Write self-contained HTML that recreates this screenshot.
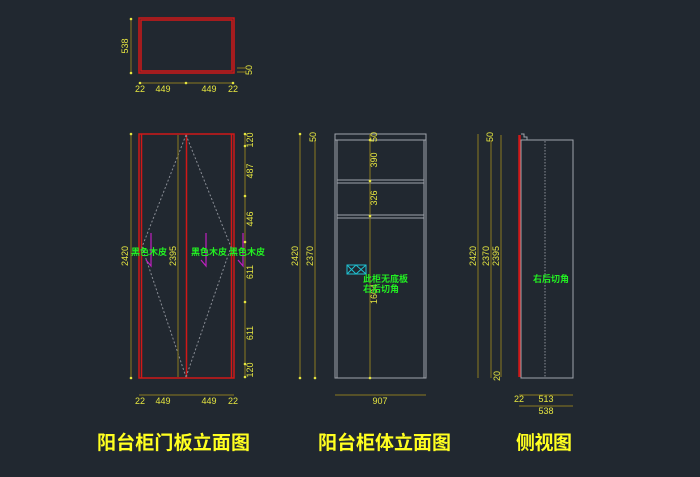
<!DOCTYPE html>
<html><head><meta charset="utf-8"><style>
html,body{margin:0;padding:0;background:#212830;}
svg{display:block}
text{font-family:"Liberation Sans","Noto Sans CJK SC",sans-serif;}
.d{stroke:#8a7a20;stroke-width:1;fill:none}
.t{fill:#e6e640;font-size:9px}
.g{fill:#22ee22;font-size:9px;font-weight:bold;font-family:"Noto Sans CJK SC",sans-serif}
.r{stroke:#d01818;stroke-width:1.5;fill:none}
.w{stroke:#a0a4ac;stroke-width:1;fill:none}
.dot{fill:#e6e640}
.ti{fill:#ffff20;font-size:19px;font-weight:bold;font-family:"Noto Sans CJK SC",sans-serif}
</style></head><body>
<svg width="700" height="477" viewBox="0 0 700 477" xmlns="http://www.w3.org/2000/svg">
<!-- top plan -->
<rect x="139" y="18" width="95" height="55" class="r"/>
<rect x="141" y="20" width="91" height="51" class="r" stroke-width="0.8"/>
<line x1="131" y1="19" x2="131" y2="73" class="d"/>
<text class="t" transform="translate(128,46) rotate(-90)" text-anchor="middle">538</text>
<line x1="139" y1="83" x2="234" y2="83" class="d"/>
<g class="dot"><circle cx="131" cy="19" r="1.3"/><circle cx="131" cy="73" r="1.3"/><circle cx="140" cy="83" r="1.3"/><circle cx="186" cy="83" r="1.3"/><circle cx="233" cy="83" r="1.3"/></g>
<text class="t" x="140" y="92" text-anchor="middle">22</text>
<text class="t" x="163" y="92" text-anchor="middle">449</text>
<text class="t" x="209" y="92" text-anchor="middle">449</text>
<text class="t" x="233" y="92" text-anchor="middle">22</text>
<text class="t" transform="translate(252,70) rotate(-90)" text-anchor="middle">50</text>
<line x1="237" y1="68" x2="246" y2="68" class="d"/><line x1="237" y1="72" x2="246" y2="72" class="d"/>

<!-- door elevation -->
<rect x="139" y="134" width="95" height="244" class="r"/>
<line x1="141.5" y1="134" x2="141.5" y2="378" class="r"/>
<line x1="186.5" y1="134" x2="186.5" y2="378" class="r"/>
<line x1="231.5" y1="134" x2="231.5" y2="378" class="r"/>
<polyline points="186,135 142,247 186,377" stroke="#8a8e96" stroke-dasharray="2,2" fill="none"/>
<polyline points="186,135 231,247 186,377" stroke="#8a8e96" stroke-dasharray="2,2" fill="none"/>
<line x1="131" y1="134" x2="131" y2="378" class="d"/>
<text class="t" transform="translate(128,256) rotate(-90)" text-anchor="middle">2420</text>
<line x1="178" y1="135" x2="178" y2="377" class="d"/>
<text class="t" transform="translate(176,256) rotate(-90)" text-anchor="middle">2395</text>
<line x1="245" y1="134" x2="245" y2="378" class="d"/>
<text class="t" transform="translate(253,140) rotate(-90)" text-anchor="middle">120</text>
<text class="t" transform="translate(253,171) rotate(-90)" text-anchor="middle">487</text>
<text class="t" transform="translate(253,219) rotate(-90)" text-anchor="middle">446</text>
<text class="t" transform="translate(253,272) rotate(-90)" text-anchor="middle">611</text>
<text class="t" transform="translate(253,333) rotate(-90)" text-anchor="middle">611</text>
<text class="t" transform="translate(253,370) rotate(-90)" text-anchor="middle">120</text>
<g class="dot"><circle cx="245" cy="134" r="1.3"/><circle cx="245" cy="146" r="1.3"/><circle cx="245" cy="196" r="1.3"/><circle cx="245" cy="242" r="1.3"/><circle cx="245" cy="302" r="1.3"/><circle cx="245" cy="364" r="1.3"/><circle cx="245" cy="377" r="1.3"/><circle cx="131" cy="134" r="1.3"/><circle cx="131" cy="378" r="1.3"/></g>
<line x1="139" y1="395" x2="234" y2="395" class="d"/>
<text class="t" x="140" y="404" text-anchor="middle">22</text>
<text class="t" x="163" y="404" text-anchor="middle">449</text>
<text class="t" x="209" y="404" text-anchor="middle">449</text>
<text class="t" x="233" y="404" text-anchor="middle">22</text>
<g stroke="#c020c0" stroke-width="1.2" fill="none">
<polyline points="151,233 151,266 146,260"/><polyline points="206,233 206,266 201,260"/><polyline points="243,233 243,266 238,260"/>
</g>
<text class="g" x="131" y="255">黑色木皮</text>
<text class="g" x="191" y="255">黑色木皮</text>
<text class="g" x="229" y="255">黑色木皮</text>

<!-- body elevation -->
<rect x="335" y="134" width="91" height="6" class="w"/>
<rect x="335" y="140" width="91" height="238" class="w"/>
<line x1="337" y1="140" x2="337" y2="378" class="w"/>
<line x1="424" y1="140" x2="424" y2="378" class="w"/>
<rect x="337" y="180" width="87" height="3" class="w"/>
<rect x="337" y="215" width="87" height="3" class="w"/>
<line x1="300" y1="134" x2="300" y2="378" class="d"/>
<text class="t" transform="translate(298,256) rotate(-90)" text-anchor="middle">2420</text>
<line x1="315" y1="140" x2="315" y2="378" class="d"/>
<text class="t" transform="translate(313,256) rotate(-90)" text-anchor="middle">2370</text>
<text class="t" transform="translate(316,137) rotate(-90)" text-anchor="middle">50</text>
<line x1="370" y1="134" x2="370" y2="378" class="d"/>
<g class="dot"><circle cx="370" cy="140" r="1.3"/><circle cx="370" cy="181" r="1.3"/><circle cx="370" cy="216" r="1.3"/><circle cx="370" cy="378" r="1.3"/><circle cx="300" cy="134" r="1.3"/><circle cx="300" cy="378" r="1.3"/><circle cx="315" cy="378" r="1.3"/></g>
<text class="t" transform="translate(377,137) rotate(-90)" text-anchor="middle">50</text>
<text class="t" transform="translate(377,160) rotate(-90)" text-anchor="middle">390</text>
<text class="t" transform="translate(377,198) rotate(-90)" text-anchor="middle">326</text>
<text class="t" transform="translate(377,294) rotate(-90)" text-anchor="middle">1604</text>
<rect x="347" y="265" width="19" height="9" stroke="#20c0d0" fill="none"/>
<path d="M347 265L356 274M356 265L347 274M356 265L366 274M366 265L356 274" stroke="#20c0d0"/>
<text class="g" x="363" y="282">此柜无底板</text>
<text class="g" x="363" y="292">右后切角</text>
<line x1="335" y1="395" x2="426" y2="395" class="d"/>
<text class="t" x="380" y="404" text-anchor="middle">907</text>

<!-- side view -->
<line x1="519.5" y1="135" x2="519.5" y2="377" stroke="#d01818" stroke-width="2.5"/>
<rect x="521" y="140" width="52" height="238" class="w"/>
<polyline points="521,134 524,134 524,137 527,137 527,140" class="w"/>
<line x1="545" y1="141" x2="545" y2="378" stroke="#8a8e96" stroke-dasharray="1.5,1.5"/>
<line x1="478" y1="134" x2="478" y2="378" class="d"/>
<text class="t" transform="translate(476,256) rotate(-90)" text-anchor="middle">2420</text>
<line x1="491" y1="140" x2="491" y2="378" class="d"/>
<text class="t" transform="translate(489,256) rotate(-90)" text-anchor="middle">2370</text>
<line x1="501" y1="135" x2="501" y2="377" class="d"/>
<text class="t" transform="translate(499,256) rotate(-90)" text-anchor="middle">2395</text>
<text class="t" transform="translate(493,137) rotate(-90)" text-anchor="middle">50</text>
<text class="t" transform="translate(500,376) rotate(-90)" text-anchor="middle">20</text>
<text class="g" x="533" y="282">右后切角</text>
<line x1="519" y1="395" x2="573" y2="395" class="d"/>
<text class="t" x="519" y="402" text-anchor="middle">22</text>
<text class="t" x="546" y="402" text-anchor="middle">513</text>
<line x1="519" y1="406" x2="573" y2="406" class="d"/>
<text class="t" x="546" y="414" text-anchor="middle">538</text>

<!-- titles -->
<text class="ti" x="97" y="449" textLength="153">阳台柜门板立面图</text>
<text class="ti" x="318" y="449" textLength="133">阳台柜体立面图</text>
<text class="ti" x="516" y="449" textLength="56">侧视图</text>
</svg>
</body></html>
